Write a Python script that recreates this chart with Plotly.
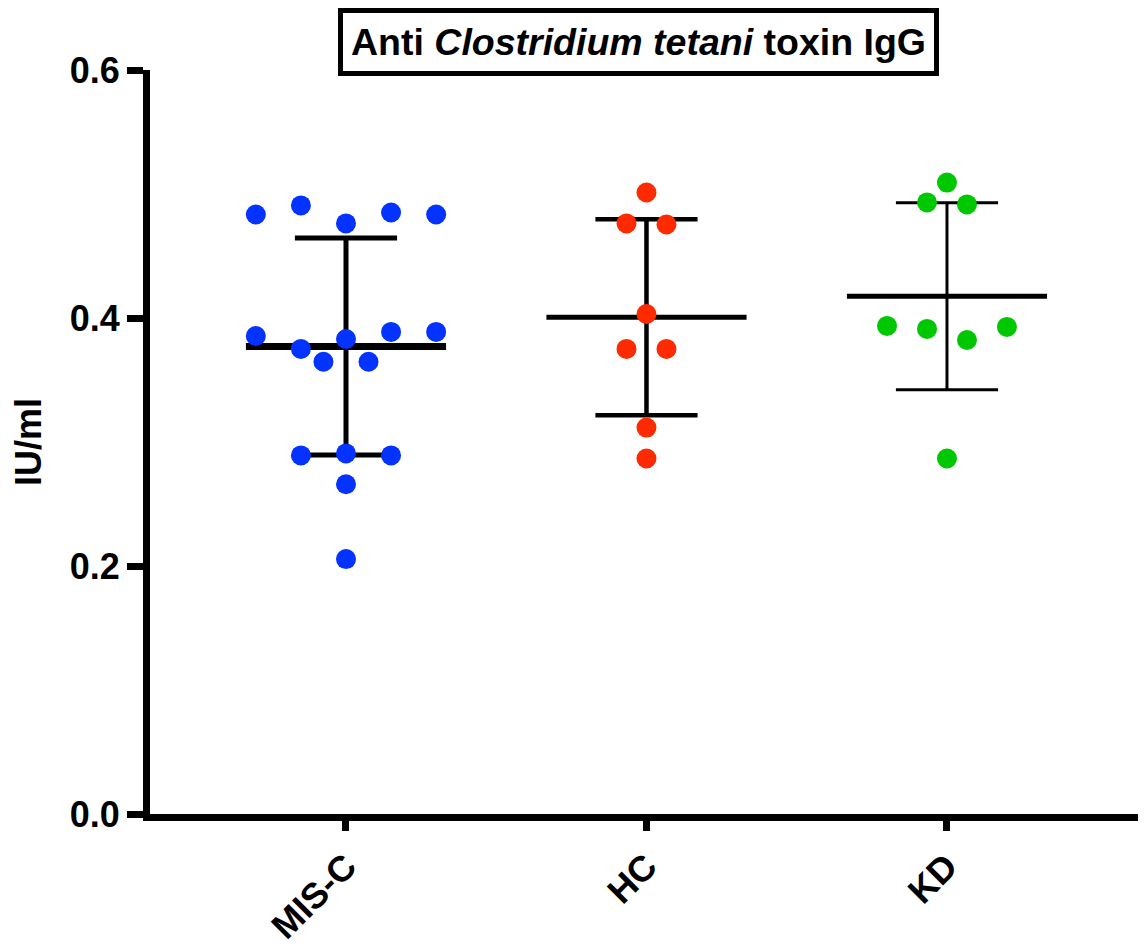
import plotly.graph_objects as go
import numpy as np

# ---- data ----
groups = ["MIS-C", "HC", "KD"]
misc_values = [0.4835, 0.4908, 0.4763, 0.4851, 0.4835,
               0.3855, 0.3751, 0.3831, 0.3888, 0.3888,
               0.3647, 0.3647,
               0.2892, 0.2908, 0.2892,
               0.2659, 0.2056]
hc_values = [0.5012, 0.4763, 0.4755, 0.4032, 0.3751, 0.3751, 0.3116, 0.2867]
kd_values = [0.5092, 0.4932, 0.4916, 0.3936, 0.3912, 0.3823, 0.3928, 0.2867]
y_ticks = [0.0, 0.2, 0.4, 0.6]
y_tick_labels = ["0.0", "0.2", "0.4", "0.6"]

all_values = [misc_values, hc_values, kd_values]

# ---- styles ----
colors = ["#0433FF", "#FF2A00", "#00C800"]
swarm_step = [0.15, 0.133, 0.133]
mean_width = [7, 5, 5]
bar_width = [5, 4.5, 3]
mean_half = 0.333
cap_half = 0.17
FONT = "Liberation Sans, Arial, Helvetica, sans-serif"


def swarm_offsets(vals, step, gap=0.01):
    order = sorted(range(len(vals)), key=lambda i: vals[i])
    rows, cur = [], [order[0]]
    for a, b in zip(order, order[1:]):
        if vals[b] - vals[a] <= gap:
            cur.append(b)
        else:
            rows.append(cur)
            cur = [b]
    rows.append(cur)
    off = [0.0] * len(vals)
    for r in rows:
        r = sorted(r)
        n = len(r)
        for k, i in enumerate(r):
            off[i] = (k - (n - 1) / 2) * step
    return off


fig = go.Figure()

# lines (mean +/- SD) first
for gi, vals in enumerate(all_values):
    c = gi + 1
    arr = np.array(vals)
    m = arr.mean()
    sd = arr.std(ddof=1)
    fig.add_trace(go.Scatter(
        x=[c, c, None, c - cap_half, c + cap_half, None, c - cap_half, c + cap_half],
        y=[m - sd, m + sd, None, m + sd, m + sd, None, m - sd, m - sd],
        mode="lines", line=dict(color="black", width=bar_width[gi]),
        hoverinfo="skip", showlegend=False))
    fig.add_trace(go.Scatter(
        x=[c - mean_half, c + mean_half], y=[m, m],
        mode="lines", line=dict(color="black", width=mean_width[gi]),
        hoverinfo="skip", showlegend=False))

# points
for gi, vals in enumerate(all_values):
    c = gi + 1
    off = swarm_offsets(vals, swarm_step[gi])
    fig.add_trace(go.Scatter(
        x=[c + o for o in off], y=vals, mode="markers",
        marker=dict(color=colors[gi], size=20, line=dict(width=0)),
        name=groups[gi], showlegend=False))

fig.update_layout(
    width=1138, height=936,
    margin=dict(l=142, r=3, t=62, b=130),
    paper_bgcolor="white", plot_bgcolor="white",
    font=dict(family=FONT, color="black"),
    xaxis=dict(
        range=[0.3478, 3.6523], tickmode="array", tickvals=[1, 2, 3], ticktext=groups,
        tickangle=-45, ticks="outside", ticklen=10, tickwidth=7, tickcolor="black",
        showline=True, linewidth=7, linecolor="black",
        showgrid=False, zeroline=False, automargin=False,
        tickfont=dict(family=FONT, size=36, color="black", weight="bold"),
    ),
    yaxis=dict(
        range=[0, 0.6], tickmode="array", tickvals=y_ticks, ticktext=y_tick_labels,
        ticks="outside", ticklen=16, tickwidth=7, tickcolor="black",
        showline=True, linewidth=7, linecolor="black",
        showgrid=False, zeroline=False, automargin=False,
        tickfont=dict(family=FONT, size=36, color="black", weight="bold"),
        title=dict(text="IU/ml", standoff=24,
                   font=dict(family=FONT, size=36, color="black", weight="bold")),
    ),
    annotations=[dict(
        text="<b>Anti <i>Clostridium tetani</i> toxin IgG</b>",
        xref="paper", yref="paper", x=0.492, y=1.0376,
        xanchor="center", yanchor="middle", showarrow=False,
        font=dict(family=FONT, size=37.5, color="black"),
        bordercolor="black", borderwidth=5, borderpad=8, bgcolor="white",
        width=575, height=42,
    )],
)

fig.write_html("out.html")
